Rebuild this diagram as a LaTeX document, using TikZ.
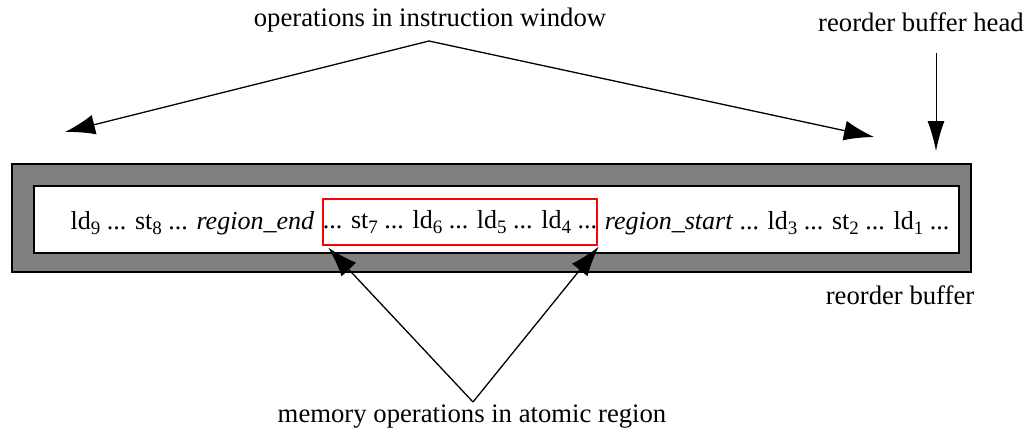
\documentclass[tikz,border=0pt]{standalone}
\usepackage{fontspec}
\setmainfont{Liberation Serif}
\usetikzlibrary{arrows.meta,positioning,calc}
\newcommand\sbs[1]{\raisebox{-5pt}{\fontsize{19}{19}\selectfont #1}}
\begin{document}
\begin{tikzpicture}[x=1pt,y=-1pt,
  every node/.style={font=\fontsize{26}{30}\selectfont, inner sep=0pt},
  label text/.style={font=\fontsize{26.7}{30}\selectfont},
  robouter/.style={draw=black, line width=1.5pt, fill=black!50, minimum width=959pt, minimum height=108pt},
  robinner/.style={draw=black, line width=1.5pt, fill=white, minimum width=925pt, minimum height=67pt},
  region/.style={draw=red, line width=1.2pt, minimum width=274pt, minimum height=46pt},
  pointer/.style={line width=1.3pt, -{Latex[length=30pt,width=20pt]}},
  headptr/.style={line width=1pt, -{Latex[length=30pt,width=17pt]}}]
\useasboundingbox (0,0) rectangle (1027,437);

% reorder buffer
\node[robouter] (rob) at (491.5,218) {};
\node[robinner] (win) at (496.5,219.5) {};

% contents of the window; the atomic region is framed in red
\node[region] (atomic) at (460,222) {\raisebox{-7pt}{... st\sbs{7} ... ld\sbs{6} ... ld\sbs{5} ... ld\sbs{4} ...}};
\node[anchor=base east] (older) at ($(atomic.west)+(-8,7)$) {ld\sbs{9} ... st\sbs{8} ... \textit{region\_end}};
\node[anchor=base west] (newer) at ($(atomic.east)+(7,7)$) {\textit{region\_start} ... ld\sbs{3} ... st\sbs{2} ... ld\sbs{1} ...};

% labels
\node[label text] (opslabel) at (430,20) {operations in instruction window};
\node[label text] (headlabel) at (921,22) {reorder buffer head};
\node[label text] (roblabel) at (900,295) {reorder buffer};
\node[label text] (memlabel) at (472,417) {memory operations in atomic region};

% arrow end points
\coordinate (apex) at (429,41);
\coordinate (winleft) at (65,132);
\coordinate (winright) at (874,137);
\coordinate (headtop) at (936,53);
\coordinate (headtip) at (936,151);
\coordinate (memapex) at (473,402);

\draw[pointer] (apex) -- (winleft);
\draw[pointer] (apex) -- (winright);
\draw[headptr] (headtop) -- (headtip);
\draw[pointer] (memapex) -- ($(atomic.south west)+(6,2)$);
\draw[pointer] (memapex) -- ($(atomic.south east)+(1,1)$);
\end{tikzpicture}
\end{document}
